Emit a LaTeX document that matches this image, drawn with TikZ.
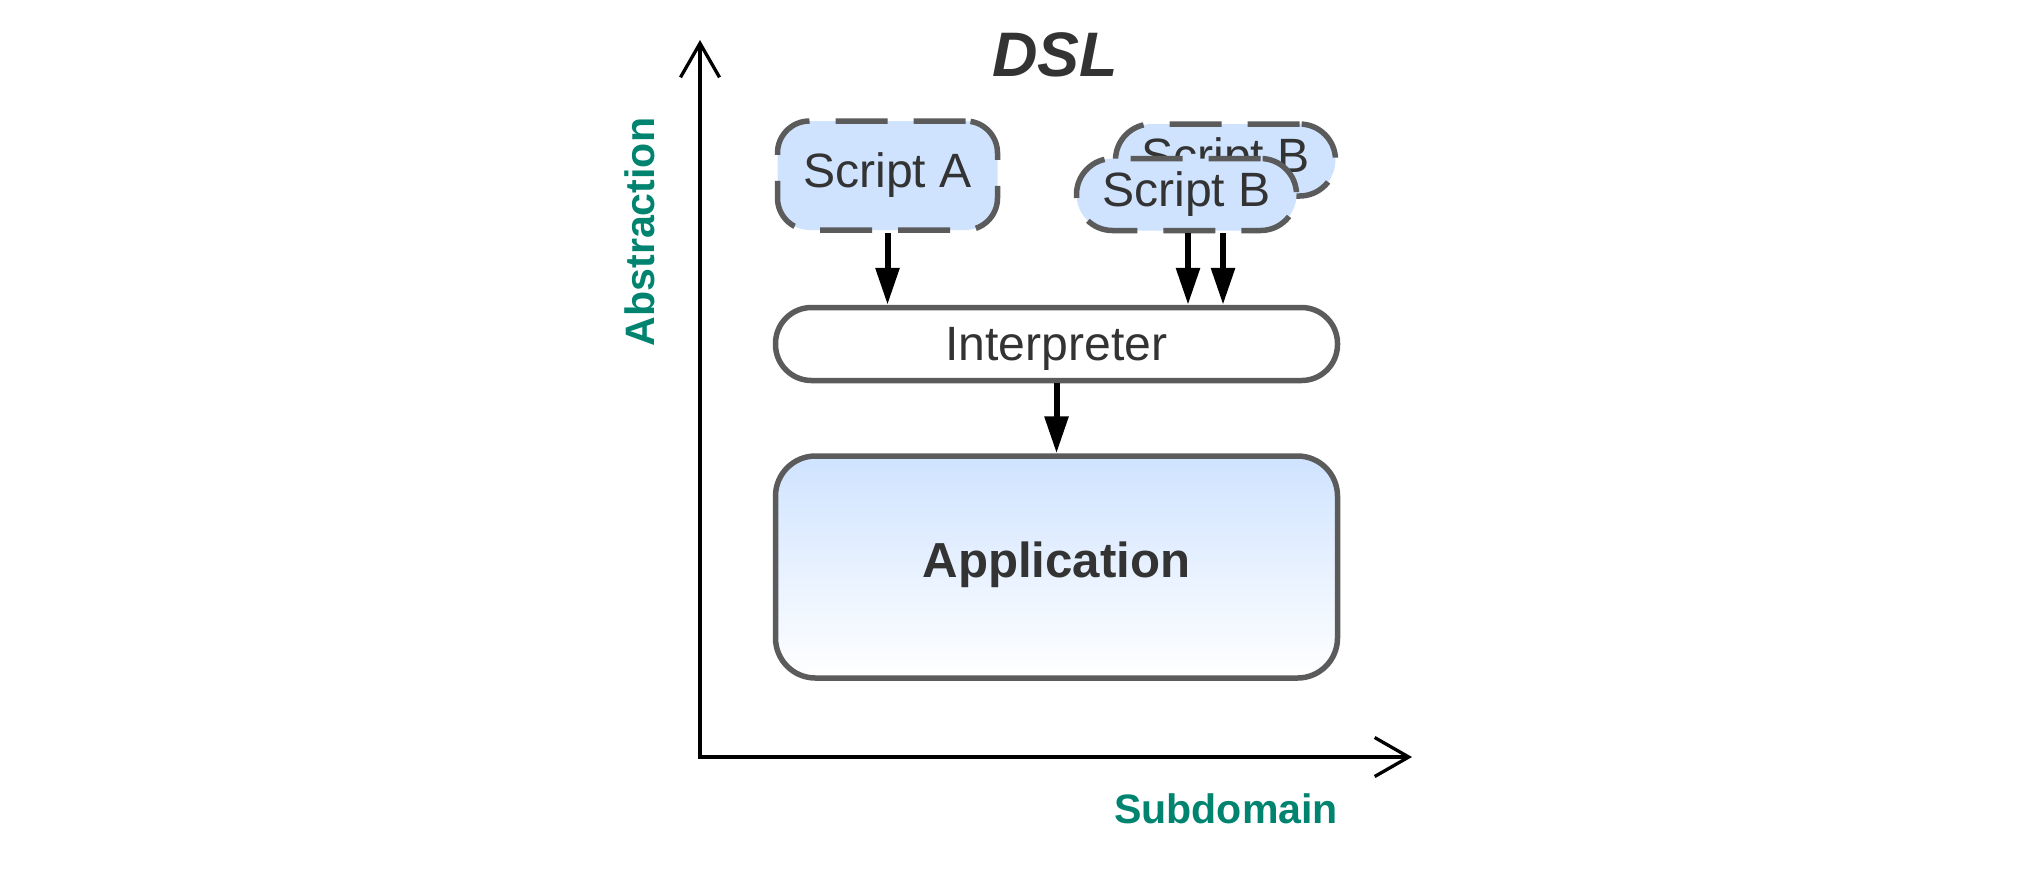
\documentclass[tikz,border=0pt]{standalone}
\usepackage{fontspec}
\setmainfont{Liberation Sans}
\usepackage{xcolor}
\usepackage{tikz}
\usetikzlibrary{arrows.meta,positioning}
\definecolor{edgegray}{HTML}{5B5B5B}
\definecolor{scriptblue}{HTML}{CFE3FF}
\definecolor{inktext}{HTML}{333333}
\definecolor{axisgreen}{HTML}{00836F}

\begin{document}
\begin{tikzpicture}[font=\fontsize{13.7}{16}\selectfont,>=Latex,text=inktext]
\tikzset{box/.style={draw=edgegray,line width=0.055cm,align=center,inner sep=0pt}, script/.style={box,dash pattern=on 0.52cm off 0.26cm,fill=scriptblue,minimum width=2.2cm}, flow/.style={-{Triangle[length=3.7mm,width=2.3mm]},line width=0.06cm,black}, axis/.style={{Straight Barb[length=3.4mm,width=3.9mm]}-{Straight Barb[length=3.4mm,width=3.9mm]},line width=0.033cm,black}, axislabel/.style={text=axisgreen,font=\fontsize{11.7}{14}\selectfont\bfseries}}
\useasboundingbox (0,0) rectangle (20.18,-8.68);
\node[font=\fontsize{17.9}{20}\selectfont\bfseries\itshape] (title) at (10.55,-0.55) {DSL};
\node[box,fill=white,rounded corners=0.36cm,minimum width=5.62cm,minimum height=0.73cm,text depth=0pt] (interp) at (10.565,-3.44) {Interpreter};
\node[box,top color=scriptblue,bottom color=white,rounded corners=0.4cm,minimum width=5.62cm,minimum height=2.22cm,below=0.7cm of interp,text depth=0.41em,font=\fontsize{14}{16}\selectfont\bfseries] (app) {Application};
\node[script,rounded corners=0.32cm,minimum height=1.09cm] (scriptA) at (8.875,-1.755) {Script A};
\node[script,rounded corners=0.36cm,minimum height=0.72cm] (scriptBback) at (12.255,-1.60) {Script B};
\node[script,rounded corners=0.36cm,minimum height=0.72cm] (scriptB) at ([shift={(-0.39,-0.345)}]scriptBback.center) {Script B};
\coordinate (origin) at (7.00,-7.57);
\coordinate (abstop) at (7.00,-0.40);
\coordinate (subend) at (14.12,-7.57);
\draw[axis] (abstop) -- (origin) -- (subend);
\node[axislabel,rotate=90] (abstraction) at (6.40,-2.32) {Abstraction};
\node[axislabel] (subdomain) at (12.26,-8.09) {Subdomain};
\draw[flow] (scriptA.south) -- (scriptA.south |- interp.north);
\draw[flow] ([xshift=0.015cm]scriptB.south) -- ([xshift=0.015cm]scriptB.south |- interp.north);
\draw[flow] ([xshift=0.365cm]scriptB.south) -- ([xshift=0.365cm]scriptB.south |- interp.north);
\draw[flow] (interp.south) -- (app.north);
\end{tikzpicture}
\end{document}
